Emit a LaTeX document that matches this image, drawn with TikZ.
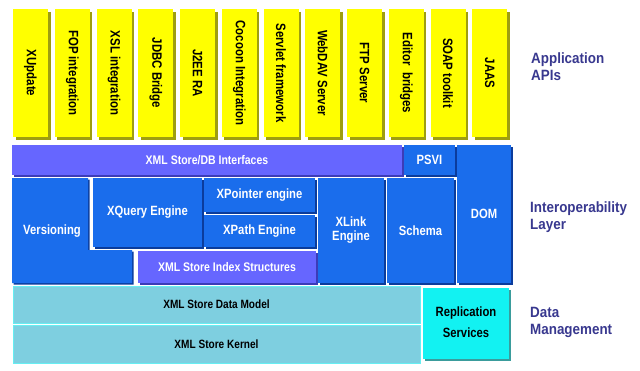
\documentclass[tikz,border=0pt]{standalone}
\usepackage{fontspec}
\usepackage{graphicx}
\usetikzlibrary{shadows,fit}
\newfontfamily\boxfont[FakeStretch=0.84]{Liberation Sans}
\newfontfamily\labelfont[FakeStretch=0.9]{Liberation Sans}

\definecolor{apiyellow}{HTML}{FFFF00}
\definecolor{apishade}{HTML}{9E9E10}
\definecolor{ifpurple}{HTML}{6666FF}
\definecolor{ifpshade}{HTML}{3C3CB8}
\definecolor{ifblue}{HTML}{1A6DEC}
\definecolor{ifbshade}{HTML}{0B3C9C}
\definecolor{dmlight}{HTML}{7ECFE0}
\definecolor{dmedge}{HTML}{66EEF2}
\definecolor{repcyan}{HTML}{12F2F2}
\definecolor{repshade}{HTML}{3A9C9C}
\definecolor{layertext}{HTML}{38388F}

\tikzset{
  block/.style={inner sep=0pt, align=center, font=\boxfont\bfseries},
  apibox/.style={block, fill=apiyellow, text=black,
    minimum width=35pt, minimum height=128pt, font=\boxfont\bfseries\fontsize{13.6}{15}\selectfont,
    drop shadow={shadow xshift=2.5pt, shadow yshift=-2.5pt, opacity=1, fill=apishade}},
  purplebox/.style={block, fill=ifpurple, text=white,
    font=\boxfont\bfseries\fontsize{12.5}{14}\selectfont,
    drop shadow={shadow xshift=1.5pt, shadow yshift=-1.5pt, opacity=1, fill=ifpshade}},
  bluebox/.style={block, fill=ifblue, text=white,
    font=\boxfont\bfseries\fontsize{13.4}{15.5}\selectfont,
    drop shadow={shadow xshift=1.5pt, shadow yshift=-1.5pt, opacity=1, fill=ifbshade}},
  databox/.style={block, fill=dmlight, draw=dmedge, line width=0.8pt, text=black,
    font=\boxfont\bfseries\fontsize{12}{14}\selectfont},
  repbox/.style={block, fill=repcyan, text=black,
    font=\boxfont\bfseries\fontsize{13.4}{21}\selectfont,
    drop shadow={shadow xshift=2pt, shadow yshift=-2pt, opacity=1, fill=repshade}},
  layerlabel/.style={anchor=west, align=left, inner sep=0pt, text=layertext,
    font=\labelfont\bfseries\fontsize{14.9}{17}\selectfont},
}

\begin{document}
\begin{tikzpicture}[x=1pt, y=-1pt]
  \useasboundingbox[fill=white] (0,0) rectangle (640,370);

  % Application APIs
  \foreach \t [count=\i from 0] in {XUpdate, FOP integration, XSL integration,
      JDBC Bridge, J2EE RA, Cocoon Integration, Servlet framework, WebDAV Server,
      FTP Server, Editor\ \ bridges, SOAP toolkit, JAAS}
    \node[apibox] (api\i) at ({30.5+41.75*\i},73) {\rotatebox{-90}{\t}};

  % Interoperability layer
  \node[purplebox, fit={(12,145) (402,175)}] (dbif) {};
  \node[text=white, font=\boxfont\bfseries\fontsize{12.5}{14}\selectfont] (dbiftext) at (dbif.center) {XML Store/DB Interfaces};
  \node[bluebox, fit={(404,145) (455,175)}] (psvi) {};
  \node[text=white, font=\boxfont\bfseries\fontsize{13.4}{15}\selectfont] at (psvi.center) {PSVI};
  \node[bluebox, fit={(457,145) (511,283)}] (dom) {};
  \node[text=white, font=\boxfont\bfseries\fontsize{13.4}{15}\selectfont] at (484,214) {DOM};

  % Versioning block (L-shaped)
  \fill[ifbshade] (13.5,179.5) -- (89.5,179.5) -- (89.5,251.5) -- (133.5,251.5)
    -- (133.5,284.5) -- (13.5,284.5) -- cycle;
  \fill[ifblue] (12,178) -- (88,178) -- (88,250) -- (132,250) -- (132,283)
    -- (12,283) -- cycle;
  \node[text=white, font=\boxfont\bfseries\fontsize{13.4}{15}\selectfont] (versioning) at (52,231) {Versioning};

  \node[bluebox, fit={(93,178) (202,247)}] (xquery) {};
  \node[text=white, font=\boxfont\bfseries\fontsize{13.4}{15}\selectfont] at (xquery.center) {XQuery Engine};
  \node[bluebox, fit={(204,178) (315,212)}] (xpointer) {};
  \node[text=white, font=\boxfont\bfseries\fontsize{13.4}{15}\selectfont] at (xpointer.center) {XPointer engine};
  \node[bluebox, fit={(204,215) (315,247)}] (xpath) {};
  \node[text=white, font=\boxfont\bfseries\fontsize{13.4}{15}\selectfont] at (xpath.center) {XPath Engine};
  \node[purplebox, fit={(138,251) (316,283)}] (index) {};
  \node[text=white, font=\boxfont\bfseries\fontsize{12.5}{14}\selectfont] at (index.center) {XML Store Index Structures};
  \node[bluebox, fit={(318,178) (384,283)}] (xlink) {};
  \node[text=white, align=center, font=\boxfont\bfseries\fontsize{13.4}{14.5}\selectfont] at (351,230) {XLink\\Engine};
  \node[bluebox, fit={(387,178) (454,283)}] (schema) {};
  \node[text=white, font=\boxfont\bfseries\fontsize{13.4}{15}\selectfont] at (schema.center) {Schema};

  % Data management
  \node[databox, fit={(13,286) (420,323)}] (datamodel) {};
  \node[font=\boxfont\bfseries\fontsize{12}{14}\selectfont] at (datamodel.center) {XML Store Data Model};
  \node[databox, fit={(13,325.5) (420,363)}] (kernel) {};
  \node[font=\boxfont\bfseries\fontsize{12}{14}\selectfont] at (kernel.center) {XML Store Kernel};
  \node[repbox, fit={(423,288) (509,359)}] (replication) {};
  \node[align=center, font=\boxfont\bfseries\fontsize{13.4}{21}\selectfont] at (466,322) {Replication\\Services};

  % Layer captions
  \node[layerlabel] (lblapi) at (531,67) {Application\\APIs};
  \node[layerlabel] (lblinterop) at (530,217) {Interoperability\\Layer};
  \node[layerlabel] (lbldata) at (530,322) {Data\\Management};
\end{tikzpicture}
\end{document}
